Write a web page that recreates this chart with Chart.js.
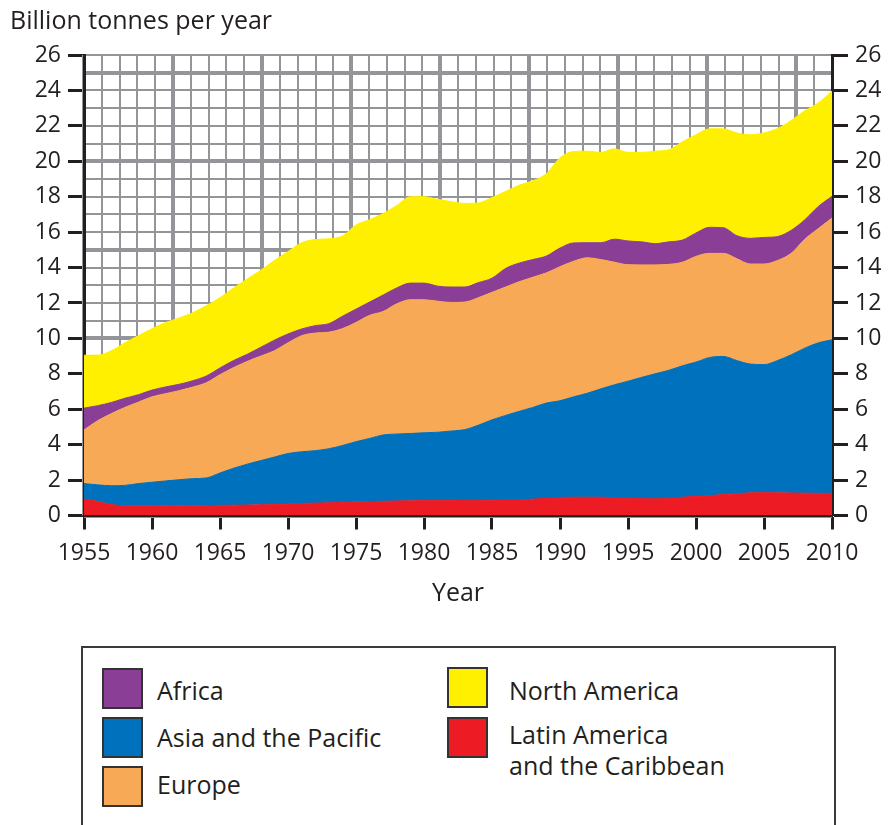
<!DOCTYPE html>
<html lang="en">
<head>
<meta charset="UTF-8">
<title>Material extraction by region, 1955-2010</title>
<script src="https://cdn.jsdelivr.net/npm/chart.js@4.4.1/dist/chart.umd.min.js"></script>
<style>
  body { margin: 0; background: #fff; font-family: "Open Sans", sans-serif; color: #231f20; }
  #wrap { position: relative; width: 888px; height: 825px; overflow: hidden; }
  #chart { position: absolute; left: 0; top: 0; }
  .legend-box { position: absolute; left: 81px; top: 646px; width: 751px; height: 220px; border: 2px solid #3a3a3a; }
  .swatch { position: absolute; width: 37px; height: 37px; border: 2px solid #333; }
  .label { position: absolute; font-size: 25px; line-height: 31px; white-space: pre; }
</style>
</head>
<body>
<div id="wrap">
  <canvas id="chart" width="888" height="640"></canvas>
  <div class="legend-box"></div>
</div>

<script>
// years on the x axis
const years = [1955, 1956, 1957, 1958, 1959, 1960, 1961, 1962, 1963, 1964,
               1965, 1966, 1967, 1968, 1969, 1970, 1971, 1972, 1973, 1974,
               1975, 1976, 1977, 1978, 1979, 1980, 1981, 1982, 1983, 1984,
               1985, 1986, 1987, 1988, 1989, 1990, 1991, 1992, 1993, 1994,
               1995, 1996, 1997, 1998, 1999, 2000, 2001, 2002, 2003, 2004,
               2005, 2006, 2007, 2008, 2009, 2010];

// billion tonnes per year
const latinAmerica = [0.93, 0.80, 0.62, 0.55, 0.55, 0.55, 0.55, 0.55, 0.55, 0.56,
                      0.57, 0.58, 0.59, 0.60, 0.62, 0.65, 0.68, 0.70, 0.72, 0.74,
                      0.77, 0.79, 0.80, 0.82, 0.83, 0.84, 0.84, 0.84, 0.85, 0.85,
                      0.86, 0.87, 0.88, 0.92, 0.97, 1.02, 1.03, 1.03, 1.03, 1.00,
                      0.98, 0.95, 0.94, 0.98, 1.03, 1.08, 1.12, 1.18, 1.23, 1.28,
                      1.29, 1.28, 1.27, 1.26, 1.25, 1.25];
const asiaPacific = [0.87, 0.93, 1.06, 1.15, 1.25, 1.33, 1.40, 1.47, 1.53, 1.56,
                     1.83, 2.09, 2.31, 2.50, 2.68, 2.85, 2.92, 2.96, 3.05, 3.21,
                     3.40, 3.56, 3.75, 3.78, 3.80, 3.83, 3.86, 3.93, 4.00, 4.25,
                     4.54, 4.78, 5.00, 5.18, 5.38, 5.46, 5.67, 5.87, 6.12, 6.38,
                     6.60, 6.85, 7.06, 7.22, 7.42, 7.58, 7.80, 7.80, 7.52, 7.27,
                     7.23, 7.47, 7.80, 8.19, 8.50, 8.67];
const europe = [3.03, 3.62, 4.07, 4.40, 4.60, 4.82, 4.93, 5.03, 5.17, 5.38,
                5.55, 5.68, 5.80, 5.90, 6.00, 6.25, 6.55, 6.64, 6.58, 6.60,
                6.73, 6.95, 6.97, 7.35, 7.55, 7.51, 7.40, 7.26, 7.20, 7.20,
                7.20, 7.25, 7.32, 7.35, 7.35, 7.57, 7.65, 7.65, 7.30, 6.92,
                6.58, 6.35, 6.15, 5.98, 5.85, 5.97, 5.88, 5.82, 5.75, 5.65,
                5.68, 5.65, 5.73, 6.15, 6.45, 6.88];
const africa = [1.23, 0.85, 0.63, 0.52, 0.42, 0.38, 0.38, 0.36, 0.36, 0.38,
                0.38, 0.40, 0.40, 0.50, 0.60, 0.50, 0.38, 0.42, 0.48, 0.70,
                0.75, 0.75, 0.93, 0.90, 0.94, 0.94, 0.85, 0.87, 0.85, 0.85,
                0.80, 1.05, 1.05, 1.00, 0.95, 1.05, 1.04, 0.85, 0.95, 1.30,
                1.34, 1.30, 1.20, 1.27, 1.25, 1.32, 1.47, 1.45, 1.30, 1.45,
                1.50, 1.35, 1.30, 1.10, 1.25, 1.22];
const northAmerica = [2.99, 2.85, 2.92, 3.13, 3.33, 3.47, 3.64, 3.74, 3.84, 3.97,
                      3.97, 4.10, 4.25, 4.35, 4.50, 4.65, 4.87, 4.86, 4.79, 4.53,
                      4.75, 4.65, 4.60, 4.65, 4.88, 4.88, 4.90, 4.82, 4.72, 4.50,
                      4.55, 4.35, 4.40, 4.45, 4.65, 5.10, 5.16, 5.17, 5.10, 5.10,
                      5.00, 5.05, 5.22, 5.20, 5.55, 5.55, 5.56, 5.58, 5.80, 5.85,
                      5.90, 6.10, 6.20, 6.15, 5.85, 5.94];

// stacking order, bottom to top
const seriesNames = ['Latin America and the Caribbean', 'Asia and the Pacific', 'Europe', 'Africa', 'North America'];
const seriesValues = [latinAmerica, asiaPacific, europe, africa, northAmerica];
const seriesColors = ['#ed1c24', '#0071bc', '#f7a955', '#8b3e96', '#fff000'];

const yTicks = [0, 2, 4, 6, 8, 10, 12, 14, 16, 18, 20, 22, 24, 26];
const xTicks = [1955, 1960, 1965, 1970, 1975, 1980, 1985, 1990, 1995, 2000, 2005, 2010];

const ink = '#231f20';
const paperGrey = '#939598';
Chart.defaults.font.family = '"Open Sans", sans-serif';
Chart.defaults.color = ink;

const datasets = seriesNames.map((name, i) => ({
  label: name,
  data: seriesValues[i],
  xAxisID: 'x',
  yAxisID: 'y',
  backgroundColor: seriesColors[i],
  borderColor: seriesColors[i],
  borderWidth: 1,
  pointRadius: 0,
  fill: i === 0 ? 'origin' : '-1',
  cubicInterpolationMode: 'monotone'
}));

// y axis title sits above the plot, left aligned
const yTitlePlugin = {
  id: 'yTitle',
  afterDraw(chart) {
    const ctx = chart.ctx;
    ctx.save();
    ctx.font = '25px "Open Sans", sans-serif';
    ctx.fillStyle = ink;
    ctx.textBaseline = 'alphabetic';
    ctx.fillText('Billion tonnes per year', 10, 29);
    ctx.restore();
  }
};

const valueAxis = (position, width) => ({
  type: 'linear',
  position: position,
  min: yTicks[0],
  max: yTicks[yTicks.length - 1],
  stacked: true,
  z: 1,
  afterFit: s => { s.width = width; },
  afterBuildTicks: s => { s.ticks = yTicks.map(v => ({value: v})); },
  ticks: { autoSkip: false, padding: 7, font: {size: 23}, color: ink },
  grid: { drawOnChartArea: false, tickLength: 16, tickColor: ink, tickWidth: 3 },
  border: { color: ink, width: 3 }
});

const paperLine = c => (c.tick && c.tick.value % 5 === 0) ? 4 : 2;

new Chart(document.getElementById('chart'), {
  type: 'line',
  data: { labels: years, datasets: datasets },
  options: {
    responsive: false,
    animation: false,
    layout: { padding: { top: 55, left: 0, right: 0, bottom: 0 } },
    plugins: { legend: { display: false }, tooltip: { enabled: false } },
    scales: {
      x: {
        type: 'linear',
        position: 'bottom',
        min: years[0],
        max: years[years.length - 1],
        z: 1,
        afterFit: s => { s.height = 124.5; },
        afterBuildTicks: s => { s.ticks = xTicks.map(v => ({value: v})); },
        ticks: { autoSkip: false, maxRotation: 0, padding: 10, font: {size: 23}, color: ink, callback: v => String(v) },
        grid: { drawOnChartArea: false, tickLength: 14, tickColor: ink, tickWidth: 3 },
        border: { color: ink, width: 3 },
        title: { display: true, text: 'Year', font: {size: 25}, color: ink, padding: { top: 0, bottom: 31 } }
      },
      y: valueAxis('left', 84),
      y2: valueAxis('right', 56),
      // graph paper behind the data
      xGrid: {
        type: 'linear', position: 'top', min: 0, max: 42,
        afterFit: s => { s.height = 0; },
        ticks: { display: false, stepSize: 1 },
        grid: { drawTicks: false, color: paperGrey, lineWidth: paperLine },
        border: { display: false }
      },
      yGrid: {
        type: 'linear', position: 'left', min: 0, max: 26,
        afterFit: s => { s.width = 0; },
        ticks: { display: false, stepSize: 1 },
        grid: { drawTicks: false, color: paperGrey, lineWidth: paperLine },
        border: { display: false }
      }
    }
  },
  plugins: [yTitlePlugin]
});

// legend: two columns in a framed box below the chart
const legendSlots = [
  { series: 3, text: 'Africa', sx: 102, sy: 668, tx: 157, ty: 675 },
  { series: 1, text: 'Asia and the Pacific', sx: 102, sy: 717, tx: 157, ty: 722 },
  { series: 2, text: 'Europe', sx: 102, sy: 766, tx: 157, ty: 769 },
  { series: 4, text: 'North America', sx: 447, sy: 667, tx: 509, ty: 675 },
  { series: 0, text: 'Latin America\nand the Caribbean', sx: 447, sy: 717, tx: 509, ty: 719 }
];
const wrap = document.getElementById('wrap');
legendSlots.forEach(slot => {
  const sw = document.createElement('div');
  sw.className = 'swatch';
  sw.style.left = slot.sx + 'px';
  sw.style.top = slot.sy + 'px';
  sw.style.background = seriesColors[slot.series];
  wrap.appendChild(sw);
  const lb = document.createElement('div');
  lb.className = 'label';
  lb.style.left = slot.tx + 'px';
  lb.style.top = slot.ty + 'px';
  lb.textContent = slot.text;
  wrap.appendChild(lb);
});
</script>
</body>
</html>
